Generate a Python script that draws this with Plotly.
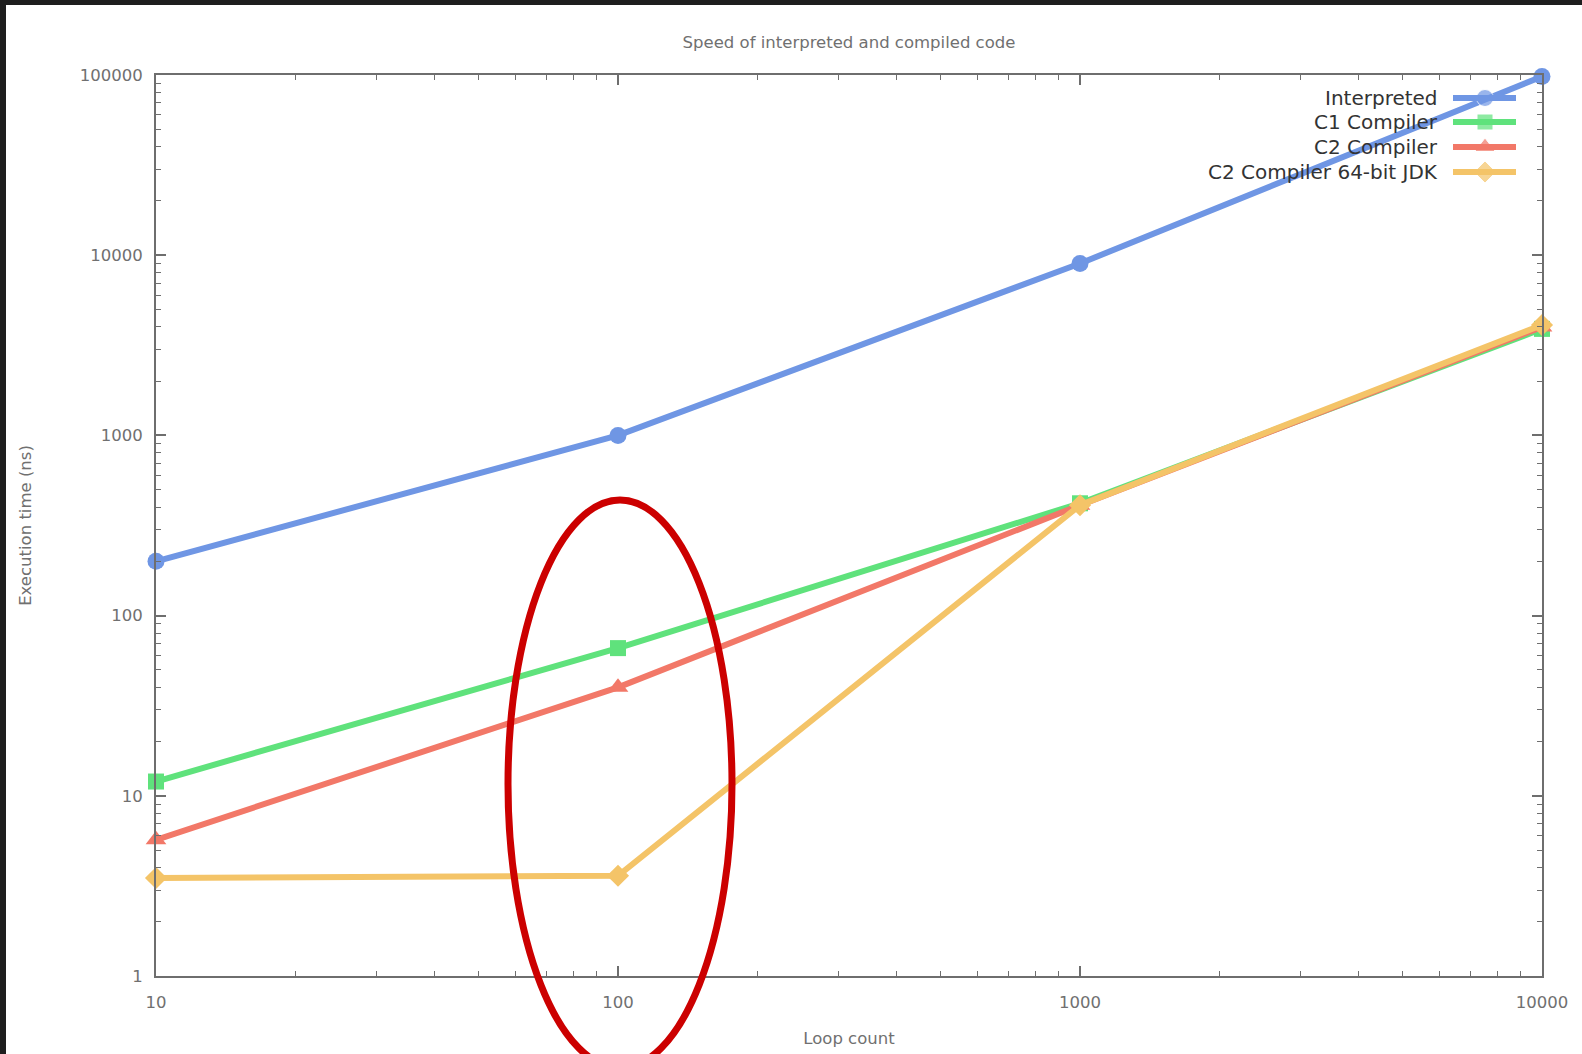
import plotly.graph_objects as go

# ---------------- data ----------------
loop_counts = [10, 100, 1000, 10000]
interpreted = [200, 1000, 9000, 98000]
c1_compiler = [12, 66, 420, 3900]
c2_compiler = [5.7, 40, 410, 4000]
c2_64bit = [3.5, 3.6, 410, 4100]

series_names = ["Interpreted", "C1 Compiler", "C2 Compiler", "C2 Compiler 64-bit JDK"]
series_values = [interpreted, c1_compiler, c2_compiler, c2_64bit]

x_tick_vals = [10, 100, 1000, 10000]
x_tick_text = ["10", "100", "1000", "10000"]
y_tick_vals = [1, 10, 100, 1000, 10000, 100000]
y_tick_text = ["1", "10", "100", "1000", "10000", "100000"]

# ---------------- styles ----------------
colors = ["#6f96e4", "#5fe27c", "#f27868", "#f4c468"]
symbols = ["circle", "square", "triangle-up", "diamond"]
msizes = [17, 16, 18, 17]

W, H = 1582, 1054
L, R, T, B = 156, 1542, 75, 976  # plot area in pixels
FONT = "DejaVu Sans"
TICKCOL = "#707070"
AXCOL = "#6e6e6e"


def px(x):
    return (x - L) / (R - L)


def py(y):
    return (B - y) / (B - T)


fig = go.Figure()

for name, vals, c, s, ms in zip(series_names, series_values, colors, symbols, msizes):
    fig.add_trace(go.Scatter(
        x=loop_counts, y=vals, name=name, mode="lines+markers",
        line=dict(color=c, width=6),
        marker=dict(symbol=s, size=ms, color=c),
        cliponaxis=False, showlegend=False,
    ))

# ---- custom legend (text left, key on right, as in gnuplot) ----
leg_rows_y = [98, 122, 147, 172]
key_x0, key_x1, key_mid = 1453, 1516, 1485
text_right = 1440
for name, c, s, ms, ry in zip(series_names, colors, symbols, msizes, leg_rows_y):
    fig.add_annotation(
        x=px(text_right), y=py(ry), xref="paper", yref="paper",
        text=name, showarrow=False, xanchor="right", yanchor="middle",
        font=dict(family=FONT, size=20, color="#333333"),
    )
    fig.add_shape(type="line", xref="paper", yref="paper",
                  x0=px(key_x0), x1=px(key_x1), y0=py(ry), y1=py(ry),
                  line=dict(color=c, width=6))
fig.add_trace(go.Scatter(
    x=[key_mid] * 4, y=leg_rows_y, mode="markers",
    marker=dict(symbol=symbols, size=msizes, color=colors),
    xaxis="x2", yaxis="y2", showlegend=False, hoverinfo="skip", cliponaxis=False,
))

# ---- red ellipse highlight ----
fig.add_shape(type="circle", xref="paper", yref="paper",
              x0=px(508), x1=px(732), y0=py(500), y1=py(1068),
              line=dict(color="#cc0000", width=7))

# ---- dark window strips (left/top) ----
fig.add_shape(type="rect", xref="paper", yref="paper",
              x0=px(0), x1=px(6), y0=py(0), y1=py(H), fillcolor="#1e1e1e",
              line=dict(width=0), layer="above")
fig.add_shape(type="rect", xref="paper", yref="paper",
              x0=px(0), x1=px(W), y0=py(0), y1=py(5), fillcolor="#1e1e1e",
              line=dict(width=0), layer="above")

axis_common = dict(
    type="log", showgrid=False, zeroline=False,
    showline=True, linecolor=AXCOL, linewidth=2, mirror="allticks",
    ticks="inside", ticklen=10, tickwidth=1.5, tickcolor=AXCOL,
    minor=dict(ticks="inside", ticklen=5, tickwidth=1.2, tickcolor=AXCOL, dtick="D1", showgrid=False),
    tickfont=dict(family=FONT, size=16.5, color=TICKCOL),
)

fig.update_layout(
    width=W, height=H,
    margin=dict(l=L, r=W - R, t=T, b=H - B, autoexpand=False),
    paper_bgcolor="white", plot_bgcolor="white",
    title=dict(text="Speed of interpreted and compiled code",
               x=px((L + R) / 2), xref="paper", xanchor="center",
               y=1 - 42 / H, yref="container", yanchor="middle",
               font=dict(family=FONT, size=16.5, color=TICKCOL)),
    xaxis=dict(axis_common, range=[1, 4], tickvals=x_tick_vals, ticktext=x_tick_text,
               ticklabelstandoff=10,
               title=dict(text="Loop count", standoff=22,
                          font=dict(family=FONT, size=16.5, color=TICKCOL))),
    yaxis=dict(axis_common, range=[0, 5], tickvals=y_tick_vals, ticktext=y_tick_text,
               ticklabelstandoff=8,
               title=dict(text="Execution time (ns)", standoff=44,
                          font=dict(family=FONT, size=16.5, color=TICKCOL))),
    xaxis2=dict(overlaying="x", range=[L, R], visible=False, fixedrange=True),
    yaxis2=dict(overlaying="y", range=[B, T], visible=False, fixedrange=True),
)

fig.write_html("out.html", config={"displayModeBar": False},
               post_script="document.body.style.margin='0';")
